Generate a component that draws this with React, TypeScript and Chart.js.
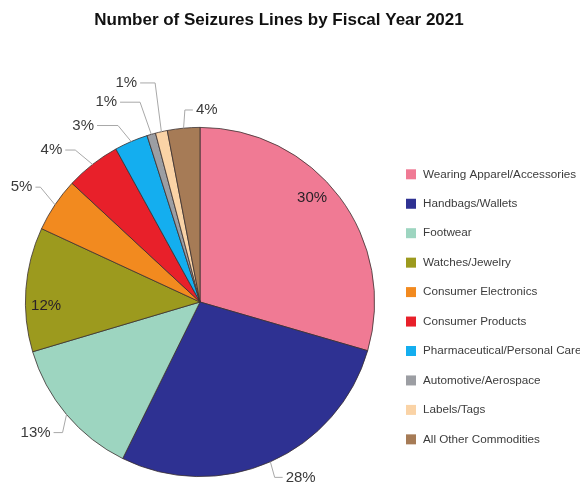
import React, { useEffect, useRef } from 'react';
import { Chart, registerables } from 'chart.js';

Chart.register(...registerables);

const TITLE = 'Number of Seizures Lines by Fiscal Year 2021';
const categories = [
  'Wearing Apparel/Accessories',
  'Handbags/Wallets',
  'Footwear',
  'Watches/Jewelry',
  'Consumer Electronics',
  'Consumer Products',
  'Pharmaceutical/Personal Care',
  'Automotive/Aerospace',
  'Labels/Tags',
  'All Other Commodities',
];
const shares = [29.5, 27.8, 13.1, 11.5, 5.0, 5.1, 3.1, 0.8, 1.1, 3.0];
const percentLabels = ['30%', '28%', '13%', '12%', '5%', '4%', '3%', '1%', '1%', '4%'];
const colors = [
  '#F07A94',
  '#2E3192',
  '#9DD5C0',
  '#9C9A1E',
  '#F28A1F',
  '#E8202A',
  '#14AEEF',
  '#9C9EA3',
  '#FAD3A6',
  '#A67B56',
];

// label placement: inside labels use polar offset; outside use leader lines
const labelStyle: any[] = [
  { inside: true, dAngle: -6, r: 153 },
  { inside: false, dAngle: 0.7, len: 16, h: 8, side: 1 },
  { inside: false, dAngle: -3.4, len: 15, h: 9, side: -1 },
  { inside: true, dAngle: -5.6, r: 154 },
  { inside: false, dAngle: 1.9, len: 22, h: 5, side: -1 },
  { inside: false, dAngle: -1.4, len: 22, h: 10, side: -1 },
  { inside: false, dAngle: -1.7, len: 20, h: 21, side: -1 },
  { inside: false, dAngle: -0.5, len: 34, h: 20, side: -1 },
  { inside: false, dAngle: 1.2, len: 49, h: 15, side: -1 },
  { inside: false, dAngle: 0.9, len: 18, h: 8, side: 1 },
];

const FONT = '"Liberation Sans", Arial, Helvetica, sans-serif';

const overlayPlugin = {
  id: 'overlay',
  afterDraw(chart: any) {
    const ctx = chart.ctx;
    ctx.save();
    // title
    ctx.font = `bold 17px ${FONT}`;
    ctx.fillStyle = '#111';
    ctx.textAlign = 'center';
    ctx.textBaseline = 'middle';
    ctx.fillText(TITLE, 279, 20);

    // percent labels
    const meta = chart.getDatasetMeta(0);
    meta.data.forEach((arc: any, i: number) => {
      const p = arc.getProps(['x', 'y', 'startAngle', 'endAngle', 'outerRadius'], true);
      const mid = (p.startAngle + p.endAngle) / 2;
      const st = labelStyle[i];
      const a = mid + (st.dAngle * Math.PI) / 180;
      ctx.font = `15px ${FONT}`;
      ctx.textBaseline = 'middle';
      if (st.inside) {
        ctx.fillStyle = '#2a2228';
        ctx.textAlign = 'center';
        ctx.fillText(percentLabels[i], p.x + st.r * Math.cos(a), p.y + st.r * Math.sin(a));
      } else {
        ctx.fillStyle = '#3a3a3a';
        const R = p.outerRadius;
        const sx = p.x + R * Math.cos(mid);
        const sy = p.y + R * Math.sin(mid);
        const ex = p.x + (R + st.len) * Math.cos(a);
        const ey = p.y + (R + st.len) * Math.sin(a);
        const hx = ex + st.side * st.h;
        ctx.strokeStyle = '#A8A8A8';
        ctx.lineWidth = 1;
        ctx.beginPath();
        ctx.moveTo(sx, sy);
        ctx.lineTo(ex, ey);
        ctx.lineTo(hx, ey);
        ctx.stroke();
        ctx.textAlign = st.side > 0 ? 'left' : 'right';
        ctx.fillText(percentLabels[i], hx + st.side * 3, ey);
      }
    });

    // legend
    ctx.font = `11.7px ${FONT}`;
    ctx.textAlign = 'left';
    ctx.textBaseline = 'middle';
    categories.forEach((c, i) => {
      const cy = 174.3 + i * 29.45;
      ctx.fillStyle = colors[i];
      ctx.fillRect(406, cy - 5, 10, 10);
      ctx.fillStyle = '#3c3c3c';
      ctx.fillText(c, 423, cy);
    });
    ctx.restore();
  },
};

export default function App() {
  const ref = useRef<HTMLCanvasElement | null>(null);
  useEffect(() => {
    if (!ref.current) return;
    const chart = new Chart(ref.current, {
      type: 'pie',
      data: {
        labels: categories,
        datasets: [
          {
            data: shares,
            backgroundColor: colors,
            borderColor: '#3a3030',
            borderWidth: 0.8,
          },
        ],
      },
      options: {
        responsive: false,
        animation: false,
        layout: { padding: { left: 25, right: 205, top: 127, bottom: 7 } },
        plugins: {
          legend: { display: false },
          title: { display: false },
          tooltip: { enabled: false },
        },
      },
      plugins: [overlayPlugin],
    });
    return () => chart.destroy();
  }, []);
  return (
    <div style={{ position: 'fixed', left: 0, top: 0, width: 580, height: 484, background: '#fff' }}>
      <canvas ref={ref} width={580} height={484} />
    </div>
  );
}
